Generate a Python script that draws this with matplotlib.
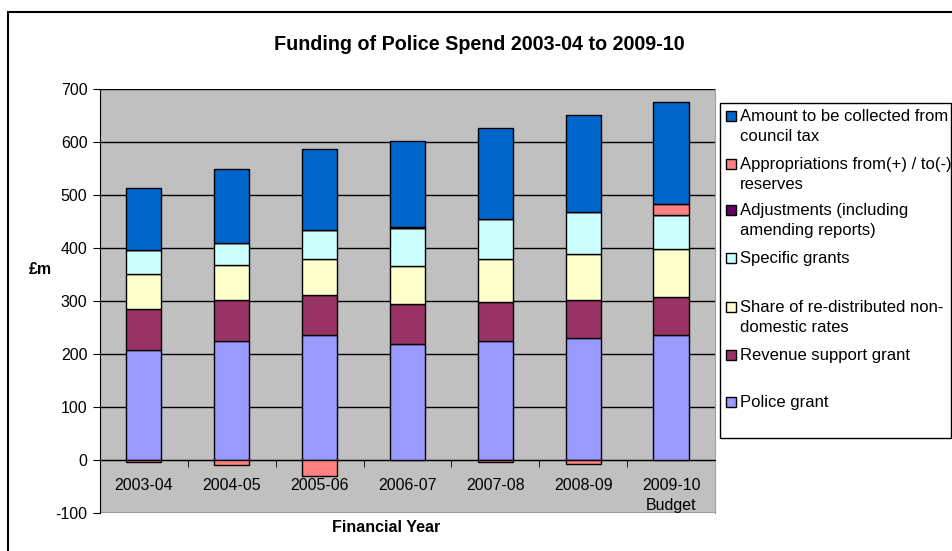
import numpy as np
import matplotlib
matplotlib.use('Agg')
import matplotlib.pyplot as plt
from matplotlib.patches import Rectangle

plt.rcParams['font.family'] = ['Liberation Sans', 'DejaVu Sans']
plt.rcParams['axes.unicode_minus'] = False

years = ['2003-04', '2004-05', '2005-06', '2006-07', '2007-08', '2008-09', '2009-10\nBudget']

# funding components (£m), stacked bottom to top
police_grant = [208, 225, 235, 218, 225, 230, 235]
revenue_support = [76, 76, 76, 77, 74, 71, 73]
nndr_share = [67, 66, 69, 71, 80, 88, 91]
specific_grants = [46, 42, 54, 71, 76, 78, 64]
adjustments = [0, 0, 0, 0, 0, 0, 0]
reserves = [-4, -10, -30, 3, -4, -7, 20]
council_tax = [117, 140, 152, 162, 171, 184, 193]

series = [
    ('Police grant', police_grant, '#9999FF'),
    ('Revenue support grant', revenue_support, '#993366'),
    ('Share of re-distributed non-\ndomestic rates', nndr_share, '#FFFFCC'),
    ('Specific grants', specific_grants, '#CCFFFF'),
    ('Adjustments (including\namending reports)', adjustments, '#660066'),
    ('Appropriations from(+) / to(-)\nreserves', reserves, '#FF8080'),
    ('Amount to be collected from\ncouncil tax', council_tax, '#0066CC'),
]

W, H = 953, 551
fig = plt.figure(figsize=(W / 100, H / 100), dpi=100)


def fx(px):
    return px / W


def fy(py):
    return 1 - py / H


ax = fig.add_axes([fx(100), fy(513), fx(715) - fx(100), fy(89) - fy(513)])
ax.set_facecolor('#C0C0C0')

x = np.arange(len(years))
pos_base = np.zeros(len(years))
neg_base = np.zeros(len(years))
for name, vals, col in series:
    vals = np.array(vals, dtype=float)
    bottom = np.where(vals >= 0, pos_base, neg_base)
    ax.bar(x, vals, 0.4, bottom=bottom, color=col, edgecolor='black',
           linewidth=1, zorder=3)
    pos_base += np.where(vals >= 0, vals, 0)
    neg_base += np.where(vals < 0, vals, 0)

ax.set_ylim(-100, 700)
ax.set_xlim(-0.5, len(years) - 0.5)
ax.set_yticks(range(-100, 701, 100))
ax.yaxis.grid(True, color='black', linewidth=1, zorder=0)
ax.set_axisbelow(True)

ax.spines['bottom'].set_position(('data', 0))
ax.spines['top'].set_visible(False)
ax.spines['right'].set_color('#A0A0A0')
for s in ('left', 'bottom'):
    ax.spines[s].set_color('black')

ax.set_xticks(x)
ax.set_xticklabels(years, va='top')
for lbl in ax.get_xticklabels():
    lbl.set_linespacing(1.45)
ax.set_xticks(np.arange(-0.5, len(years)), minor=True)
ax.tick_params(axis='x', which='major', length=0, pad=13, labelsize=11.5)
ax.tick_params(axis='x', which='minor', length=5, direction='out', color='black')
ax.tick_params(axis='y', length=5, direction='out', labelsize=11.5, pad=4)

fig.text(fx(479), fy(45), 'Funding of Police Spend 2003-04 to 2009-10',
         ha='center', va='center', fontsize=14.2, fontweight='bold')
fig.text(fx(40), fy(270), '£m', ha='center', va='center', fontsize=11.5,
         fontweight='bold')
fig.text(fx(386), fy(527), 'Financial Year', ha='center', va='center',
         fontsize=11.5, fontweight='bold')

# outer chart border
fig.add_artist(Rectangle((fx(8), -0.1), 1.2, fy(12) + 0.1, transform=fig.transFigure,
                         fill=False, edgecolor='black', linewidth=1.5))

# legend box, drawn in pixel positions, top entry first
fig.add_artist(Rectangle((fx(720), fy(438)), fx(951) - fx(720), fy(103) - fy(438),
                         transform=fig.transFigure, facecolor='white',
                         edgecolor='black', linewidth=1))
rows = [116, 164, 210, 258, 307, 355, 402]
for (name, vals, col), ry in zip(series[::-1], rows):
    fig.add_artist(Rectangle((fx(726), fy(ry + 5)), fx(10), 10 / H,
                             transform=fig.transFigure, facecolor=col,
                             edgecolor='black', linewidth=1))
    fig.text(fx(740), fy(ry - 7), name, ha='left', va='top', fontsize=12,
             linespacing=1.45)

fig.savefig('out.png', dpi=100)
